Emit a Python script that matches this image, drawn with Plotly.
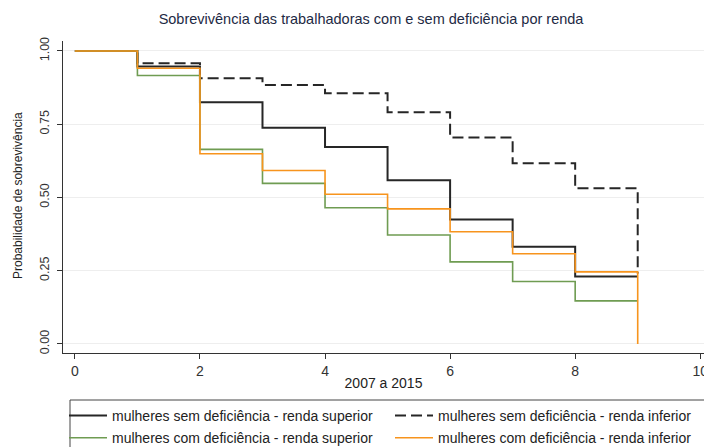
import plotly.graph_objects as go

years = [0, 1, 2, 3, 4, 5, 6, 7, 8, 9]
sem_superior = [1.0, 0.947, 0.825, 0.738, 0.672, 0.559, 0.425, 0.332, 0.230, 0.230]
sem_inferior = [1.0, 0.958, 0.907, 0.884, 0.856, 0.791, 0.705, 0.617, 0.531, 0.240]
com_superior = [1.0, 0.916, 0.664, 0.548, 0.465, 0.372, 0.280, 0.213, 0.147, 0.147]
com_inferior = [1.0, 0.941, 0.649, 0.592, 0.511, 0.461, 0.383, 0.308, 0.246, 0.0]

names = [
    "mulheres sem deficiência - renda superior",
    "mulheres sem deficiência - renda inferior",
    "mulheres com deficiência - renda superior",
    "mulheres com deficiência - renda inferior",
]
series = [sem_superior, sem_inferior, com_superior, com_inferior]
colors = ["#262626", "#262626", "#6f9c52", "#f7941d"]
dashes = ["solid", "11px,5px", "solid", "solid"]
widths = [2, 2, 1.6, 1.6]
legends = ["legend", "legend2", "legend", "legend2"]

fig = go.Figure()
for i, (n, s, c, d, w, lg) in enumerate(zip(names, series, colors, dashes, widths, legends)):
    fig.add_trace(go.Scatter(
        x=years, y=s, name=n, mode="lines", line_shape="hv",
        line=dict(color=c, dash=d, width=w), legend=lg, legendgroup=f"g{i}",
    ))

font = "Liberation Sans, Arial, sans-serif"
W, H = 704, 447
L, R, T, B = 63, 0, 41, 94
pw, ph = W - L - R, H - T - B

def px_x(px):
    return (px - L) / pw

def px_y(py):
    return (H - B - py) / ph

legend_common = dict(
    orientation="v", xref="container", yref="container",
    xanchor="left", yanchor="top",
    borderwidth=0, bgcolor="rgba(0,0,0,0)",
    font=dict(size=14, color="#222222", family=font),
    tracegroupgap=1, itemwidth=38,
)

fig.update_layout(
    width=W, height=H,
    margin=dict(l=L, r=R, t=T, b=B, autoexpand=False),
    paper_bgcolor="white", plot_bgcolor="white",
    font=dict(family=font, size=12, color="#333333"),
    title=dict(text="Sobrevivência das trabalhadoras com e sem deficiência por renda",
               x=0.527, xanchor="center", y=1 - 19 / H, yanchor="middle",
               font=dict(size=14.5, color="#1e2a44", family=font)),
    showlegend=True,
    legend=dict(x=64 / W, y=1 - 400 / H, **legend_common),
    legend2=dict(x=390 / W, y=1 - 400 / H, **legend_common),
    shapes=[dict(type="rect", xref="paper", yref="paper",
                 x0=px_x(70), x1=px_x(712), y0=px_y(456), y1=px_y(400),
                 line=dict(color="#444444", width=1), fillcolor="rgba(0,0,0,0)",
                 layer="below")],
    annotations=[dict(text="Probabilidade de sobrevivência", textangle=-90,
                      xref="paper", yref="paper", x=px_x(18), y=px_y(196),
                      xanchor="center", yanchor="middle", showarrow=False,
                      font=dict(size=12, color="#222222", family=font))],
    xaxis=dict(
        range=[-0.19, 10.06], tickvals=[0, 2, 4, 6, 8, 10],
        showgrid=False, zeroline=False,
        showline=True, linecolor="#333333", linewidth=1,
        ticks="outside", ticklen=5, tickcolor="#333333",
        ticklabeloverflow="allow",
        title=dict(text="2007 a 2015", standoff=0, font=dict(size=14, color="#222222")),
        tickfont=dict(size=14, color="#333333"),
    ),
    yaxis=dict(
        range=[-0.031, 1.034], tickvals=[0, 0.25, 0.5, 0.75, 1.0],
        ticktext=["0.00", "0.25", "0.50", "0.75", "1.00"],
        tickangle=-90, ticklabelstandoff=3,
        showgrid=True, gridcolor="#eeeeee", gridwidth=1, zeroline=False,
        showline=True, linecolor="#333333", linewidth=1,
        ticks="outside", ticklen=5, tickcolor="#333333",
        tickfont=dict(size=12.5, color="#333333"),
    ),
)

fig.write_html("out.html", config={"displayModeBar": False},
               post_script="document.body.style.margin='0';")
